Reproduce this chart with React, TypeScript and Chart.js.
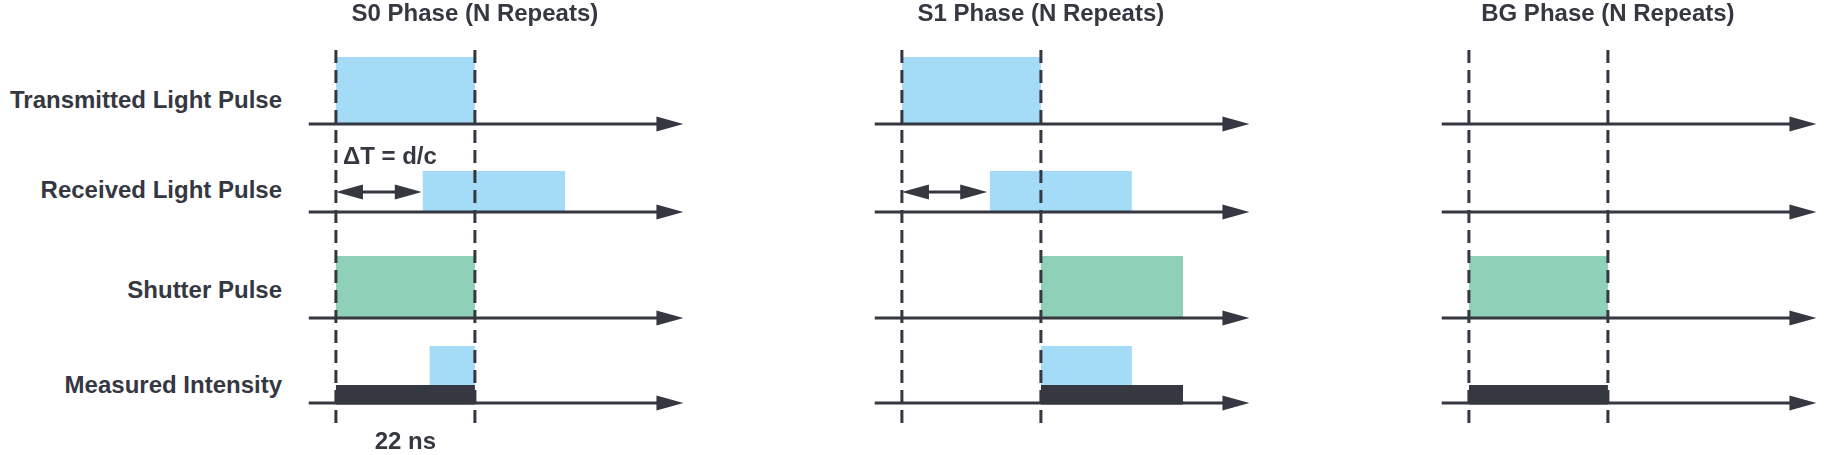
import { useEffect, useRef } from 'react';
import { Chart, registerables } from 'chart.js';

Chart.register(...registerables);

// ---- data (times in ns, one entry per phase; null = no pulse in that phase) ----
const ROW_LABELS = ['Transmitted Light Pulse', 'Received Light Pulse', 'Shutter Pulse', 'Measured Intensity'];
const PHASE_TITLES = ['S0 Phase (N Repeats)', 'S1 Phase (N Repeats)', 'BG Phase (N Repeats)'];
const PULSE_WIDTH_NS = 22;
const GATE_EDGES_NS = [0, 22];
const TX_PULSE = [[0, 22], [0, 22], null];
const RX_PULSE = [[13.7, 36.3], [13.9, 36.4], null];
const SHUTTER_PULSE = [[0, 22], [22, 44.5], [0, 22]];
const AMBIENT_SPAN = [[0, 22], [22, 44.5], [0, 22]];
const SIGNAL_SPAN = [[14.8, 22], [22, 36.4], null];
const DELAY_SPAN = [[0, 13.6], [0, 13.5], null];
const AXIS_SPAN_NS = [-4.3, 55];

// pulse levels (diagram units)
const TX_LEVEL = 67;
const RX_LEVEL = 41;
const SHUTTER_LEVEL = 62;
const AMBIENT_LEVEL = 18;
const SIGNAL_LEVEL = 39;

// ---- layout ----
const HEIGHT = 455;
const X_MIN = -6;
const X_MAX = 60;
const PANEL_LEFT = [298, 864, 1431];
const PANEL_WIDTH = 417;
const ROW_BASE = [124, 212, 318, 403];
const LABEL_Y = [100, 190, 290, 385];
const DASH_TOP = 50;
const DASH_BOTTOM = 426;
const DELAY_Y = 192;

const BLUE = '#a4dbf6';
const GREEN = '#8fd0b8';
const DARK = '#353741';
const FONT = 'bold 24px "Liberation Sans", Arial, sans-serif';

function rect(span: number[], base: number, height: number, color: string, order: number) {
  const [x0, x1] = span;
  return {
    data: [
      { x: x0, y: base },
      { x: x0, y: base - height },
      { x: x1, y: base - height },
      { x: x1, y: base },
    ],
    borderColor: 'transparent',
    borderWidth: 0,
    backgroundColor: color,
    fill: { value: base },
    pointRadius: 0,
    order,
  };
}

function seg(x0: number, y0: number, x1: number, y1: number, width: number, order: number, dash: number[] = []) {
  return {
    data: [
      { x: x0, y: y0 },
      { x: x1, y: y1 },
    ],
    borderColor: DARK,
    borderWidth: width,
    borderDash: dash,
    fill: false,
    pointRadius: 0,
    order,
  };
}

function head(ctx: CanvasRenderingContext2D, tipX: number, y: number, dir: number) {
  ctx.beginPath();
  ctx.moveTo(tipX, y);
  ctx.lineTo(tipX - dir * 27, y - 7.5);
  ctx.lineTo(tipX - dir * 27, y + 7.5);
  ctx.closePath();
  ctx.fill();
}

function PhasePanel({ phase }: { phase: number }) {
  const chartRef = useRef<HTMLCanvasElement>(null);
  const chartInstance = useRef<Chart | null>(null);

  useEffect(() => {
    if (!chartRef.current) return;
    if (chartInstance.current) chartInstance.current.destroy();

    const datasets: any[] = [];
    const tx = TX_PULSE[phase];
    const rx = RX_PULSE[phase];
    const sh = SHUTTER_PULSE[phase];
    const amb = AMBIENT_SPAN[phase];
    const sig = SIGNAL_SPAN[phase];
    const delay = DELAY_SPAN[phase];

    if (tx) datasets.push(rect(tx, ROW_BASE[0], TX_LEVEL, BLUE, 5));
    if (rx) datasets.push(rect(rx, ROW_BASE[1], RX_LEVEL, BLUE, 5));
    if (sh) datasets.push(rect(sh, ROW_BASE[2], SHUTTER_LEVEL, GREEN, 5));
    if (sig) datasets.push(rect(sig, ROW_BASE[3] - AMBIENT_LEVEL, SIGNAL_LEVEL, BLUE, 5));

    // time axes
    ROW_BASE.forEach((b) => datasets.push(seg(AXIS_SPAN_NS[0], b, AXIS_SPAN_NS[1] - 2.5, b, 3, 3)));

    if (amb) datasets.push(rect(amb, ROW_BASE[3] + 1.5, AMBIENT_LEVEL + 1.5, DARK, 2));
    if (delay) datasets.push(seg(delay[0] + 2, DELAY_Y, delay[1] - 2, DELAY_Y, 3, 2));

    GATE_EDGES_NS.forEach((t) => datasets.push(seg(t, DASH_TOP, t, DASH_BOTTOM, 3, 0, [13, 7])));

    const overlay = {
      id: 'overlay',
      afterDatasetsDraw(chart: Chart) {
        const ctx = chart.ctx;
        const xs = chart.scales.x;
        const ys = chart.scales.y;
        ctx.save();
        ctx.fillStyle = DARK;
        ROW_BASE.forEach((b) => head(ctx, xs.getPixelForValue(AXIS_SPAN_NS[1]), ys.getPixelForValue(b), 1));
        if (delay) {
          const y = ys.getPixelForValue(DELAY_Y);
          head(ctx, xs.getPixelForValue(delay[0]), y, -1);
          head(ctx, xs.getPixelForValue(delay[1]), y, 1);
        }
        ctx.font = FONT;
        ctx.textBaseline = 'middle';
        ctx.textAlign = 'center';
        ctx.fillText(PHASE_TITLES[phase], xs.getPixelForValue(PULSE_WIDTH_NS), 14);
        if (phase === 0) {
          ctx.fillText(`${PULSE_WIDTH_NS} ns`, xs.getPixelForValue(PULSE_WIDTH_NS / 2), 442);
          ctx.textAlign = 'left';
          ctx.fillText('ΔT = d/c', xs.getPixelForValue(0) + 7, 157);
        }
        ctx.restore();
      },
    };

    chartInstance.current = new Chart(chartRef.current, {
      type: 'line',
      data: { datasets },
      options: {
        responsive: false,
        animation: false,
        events: [],
        layout: { padding: 0 },
        plugins: { legend: { display: false }, tooltip: { enabled: false } },
        scales: {
          x: { type: 'linear', min: X_MIN, max: X_MAX, display: false },
          y: { type: 'linear', min: 0, max: HEIGHT, reverse: true, display: false },
        },
      },
      plugins: [overlay],
    });

    return () => {
      if (chartInstance.current) {
        chartInstance.current.destroy();
        chartInstance.current = null;
      }
    };
  }, [phase]);

  return (
    <canvas
      ref={chartRef}
      width={PANEL_WIDTH}
      height={HEIGHT}
      style={{ position: 'absolute', left: PANEL_LEFT[phase], top: 0, width: PANEL_WIDTH, height: HEIGHT }}
    />
  );
}

export default function App() {
  return (
    <div
      style={{
        position: 'absolute',
        left: 0,
        top: 0,
        width: 1831,
        height: HEIGHT,
        overflow: 'hidden',
        background: '#fff',
      }}
    >
      {ROW_LABELS.map((label, i) => (
        <div
          key={label}
          style={{
            position: 'absolute',
            left: 0,
            width: 282,
            top: LABEL_Y[i] - 14,
            height: 28,
            lineHeight: '28px',
            textAlign: 'right',
            font: FONT,
            color: DARK,
            whiteSpace: 'nowrap',
          }}
        >
          {label}
        </div>
      ))}
      {PHASE_TITLES.map((_, i) => (
        <PhasePanel key={i} phase={i} />
      ))}
    </div>
  );
}
